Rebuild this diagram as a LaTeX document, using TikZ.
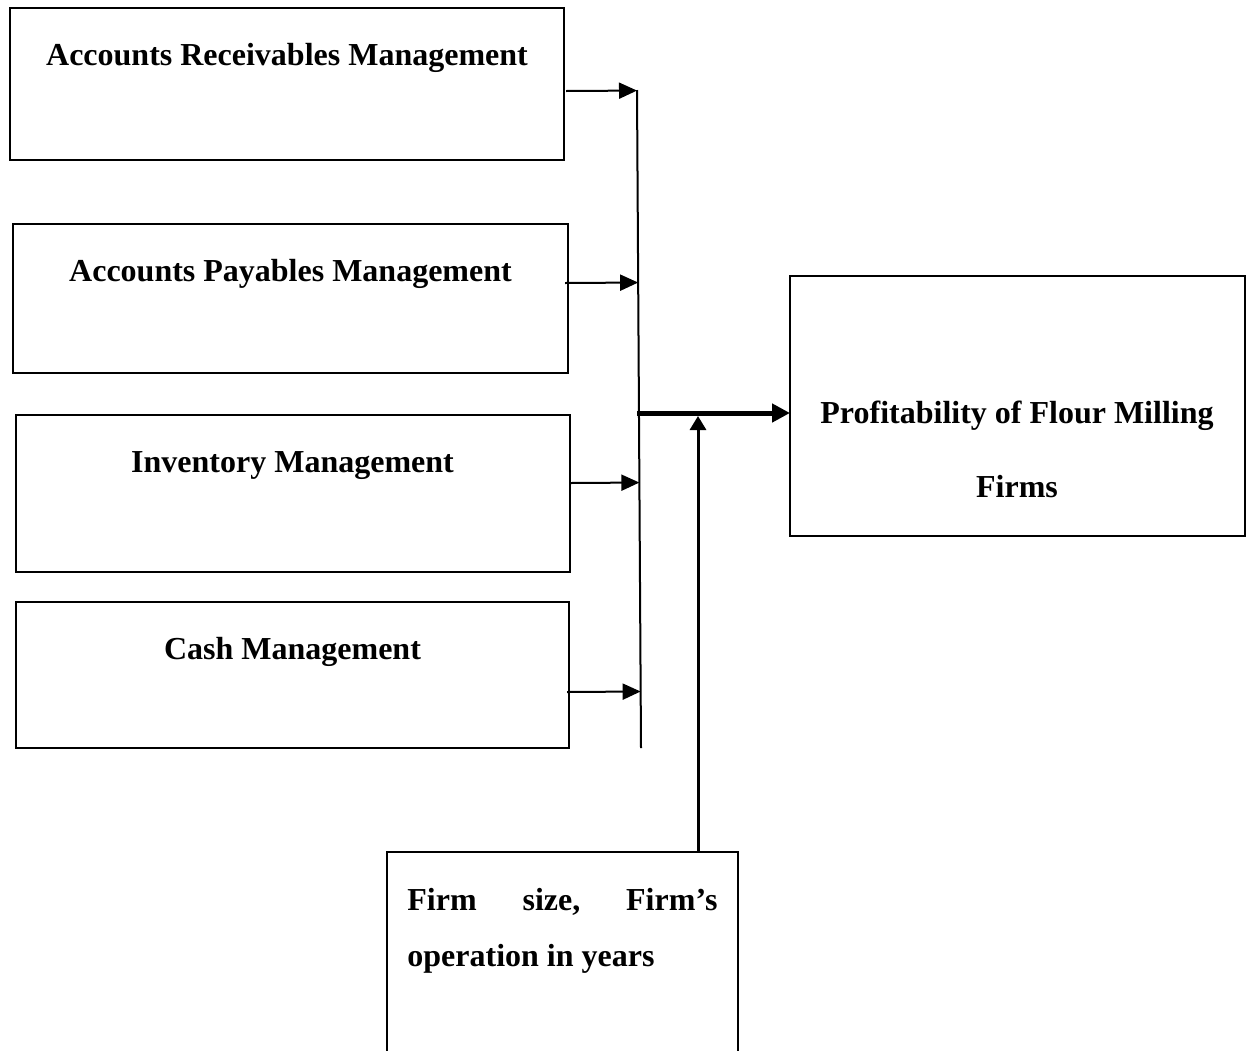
\documentclass[tikz,border=0pt]{standalone}
\usepackage{fontspec}
\setmainfont{Liberation Serif}
\usetikzlibrary{arrows.meta,calc}
\begin{document}
\begin{tikzpicture}[x=0.5pt,y=-0.5pt,
  box/.style={draw,line width=1pt,inner sep=0pt,outer sep=0pt},
  txt/.style={font=\fontsize{16}{19}\selectfont\bfseries,inner sep=0pt,anchor=base},
  arr/.style={line width=1pt,-{Triangle[length=9pt,width=8pt]}},
  thickarr/.style={line width=2.5pt,-{Triangle[length=9pt,width=9pt]}},
  uparr/.style={line width=1.5pt,-{Triangle[length=7pt,width=8pt]}}]
\useasboundingbox (0,0) rectangle (1253,1050);
% left boxes
\node[box,minimum width=277pt,minimum height=76pt] (b1) at (287,84) {};
\node[box,minimum width=277.5pt,minimum height=74.5pt] (b2) at (290.5,298.5) {};
\node[box,minimum width=277pt,minimum height=78.5pt] (b3) at (293,493.5) {};
\node[box,minimum width=276.5pt,minimum height=73pt] (b4) at (292.5,675) {};
\node[txt] (l1) at (287,65) {Accounts Receivables Management};
\node[txt] (l2) at (290.5,281) {Accounts Payables Management};
\node[txt] (l3) at (292.5,472) {Inventory Management};
\node[txt] (l4) at (292.5,659) {Cash Management};
% right box
\node[box,minimum width=227.5pt,minimum height=130pt] (out) at (1017.5,406) {};
\node[txt] (o1) at (1017,423) {Profitability of Flour Milling};
\node[txt] (o2) at (1017,497) {Firms};
% bottom box (open at the bottom)
\coordinate (mbl) at (387,1052);
\coordinate (mtl) at (387,852);
\coordinate (mtr) at (738,852);
\coordinate (mbr) at (738,1052);
\draw[line width=1pt] (mbl) -- (mtl) -- (mtr) -- (mbr);
\node[txt,anchor=base west,text width=155pt,align=left] (m1) at (407,910) {Firm\hfill size,\hfill Firm’s};
\node[txt,anchor=base west] (m2) at (407,966) {operation in years};
% bar
\coordinate (bt) at (637,90);
\coordinate (bb) at (641,748);
\draw[line width=1pt] (bt) -- (bb);
% arrows into bar
\coordinate (s1) at (566,91);
\coordinate (s2) at (565,283);
\coordinate (s3) at (571,483);
\coordinate (s4) at (567,692);
\draw[arr] (s1) -- ($(bt)!(s1)!(bb)$);
\draw[arr] (s2) -- ($(bt)!(s2)!(bb)$);
\draw[arr] (s3) -- ($(bt)!(s3)!(bb)$);
\draw[arr] (s4) -- ($(bt)!(s4)!(bb)$);
% thick arrow to outcome
\coordinate (s5) at (637,413);
\draw[thickarr] (s5) -- (s5 -| out.west);
% moderator arrow
\coordinate (s6) at (698,852);
\draw[uparr] (s6) -- (698,416);
\end{tikzpicture}
\end{document}
